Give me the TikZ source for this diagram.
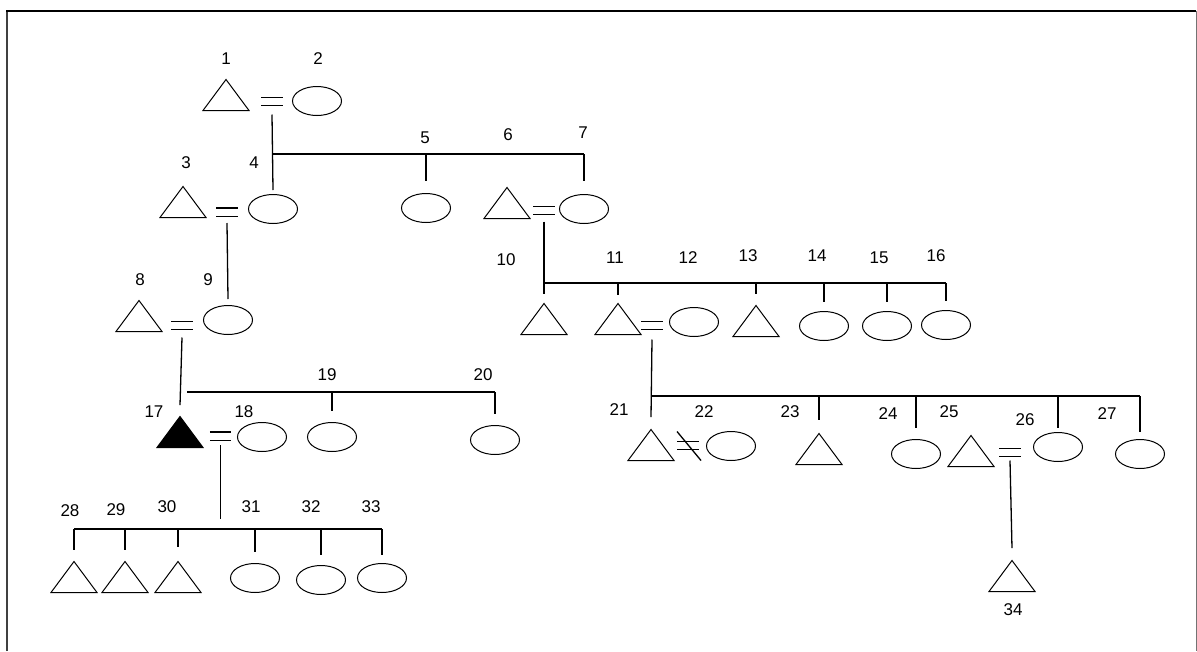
\documentclass[tikz,border=0pt]{standalone}
\usepackage{fontspec}
\setmainfont{Liberation Sans}
\usetikzlibrary{shapes.geometric}

\begin{document}
\begin{tikzpicture}[
  x=1pt, y=-1pt,
  line width=1.3pt,
  every node/.style={font=\fontsize{17}{17}\selectfont},
  male/.style={draw,line width=1pt,isosceles triangle,isosceles triangle stretches,shape border rotate=90,minimum width=46pt,minimum height=31pt,inner sep=0pt,anchor=lower side},
  female/.style={draw,line width=1pt,ellipse,minimum width=49pt,minimum height=29pt,inner sep=0pt},
  lbl/.style={inner sep=0pt},
  eq/.style={inner sep=0pt,minimum width=20pt,minimum height=7pt,
    append after command={(\tikzlastnode.north west) edge (\tikzlastnode.north east)
      (\tikzlastnode.south west) edge (\tikzlastnode.south east)}},
  neq/.style={eq,append after command={([xshift=-11pt,yshift=14pt]\tikzlastnode.center) edge ([xshift=13pt,yshift=-15pt]\tikzlastnode.center)}}
]
\useasboundingbox (0,0) rectangle (1197,651);
% frame
\draw[line width=2pt,black!75] (7,651) -- (7,11);
\draw[line width=1.5pt] (6,11) -- (1196,11);
\draw[line width=1pt,black!55] (1196,11) -- (1196,651);

% generation 1
\node[male] (p1) at (226,111) {};
\node[female] (p2) at (317,101) {};
\node[eq] (m12) at (272,101.5) {};

% generation 2
\node[male] (p3) at (183,218) {};
\node[female] (p4) at (273,209) {};
\node[eq] (m34) at (227,212) {};
\node[female] (p5) at (426,208) {};
\node[male] (p6) at (507,219) {};
\node[female] (p7) at (584,209) {};
\node[eq] (m67) at (544,210.5) {};

% generation 3
\node[male] (p8) at (139,332) {};
\node[female] (p9) at (228,320) {};
\node[eq] (m89) at (182,325.5) {};
\node[male] (p10) at (544,335) {};
\node[male] (p11) at (618,335) {};
\node[female] (p12) at (694,322) {};
\node[eq] (m1112) at (652,325.5) {};
\node[male] (p13) at (756,337) {};
\node[female] (p14) at (824,326) {};
\node[female] (p15) at (887,326) {};
\node[female] (p16) at (946,325) {};

% generation 4
\node[male,fill=black] (p17) at (180,448) {};
\node[female] (p18) at (262,437) {};
\node[eq] (m1718) at (220.5,436) {};
\node[female] (p19) at (332,437) {};
\node[female] (p20) at (495,440) {};
\node[male] (p21) at (651,461) {};
\node[female] (p22) at (731,446) {};
\node[neq] (m2122) at (688,445.5) {};
\node[male] (p23) at (819,465) {};
\node[female] (p24) at (916,454) {};
\node[male] (p25) at (971,467) {};
\node[female] (p26) at (1058,447) {};
\node[eq] (m2526) at (1010,452.5) {};
\node[female] (p27) at (1140,454) {};

% generation 5
\node[male] (p28) at (74,593) {};
\node[male] (p29) at (125,593) {};
\node[male] (p30) at (178,593) {};
\node[female] (p31) at (255,578) {};
\node[female] (p32) at (321,580) {};
\node[female] (p33) at (382,578) {};
\node[male] (p34) at (1012,592) {};

% labels
\node[lbl] (l1) at (226,59) {1};
\node[lbl] (l2) at (318,59) {2};
\node[lbl] (l3) at (186,163) {3};
\node[lbl] (l4) at (254,163) {4};
\node[lbl] (l5) at (425,138) {5};
\node[lbl] (l6) at (508,135) {6};
\node[lbl] (l7) at (583,133) {7};
\node[lbl] (l8) at (140,280) {8};
\node[lbl] (l9) at (208,280) {9};
\node[lbl] (l10) at (506,260) {10};
\node[lbl] (l11) at (615,258) {11};
\node[lbl] (l12) at (688,258) {12};
\node[lbl] (l13) at (748,256) {13};
\node[lbl] (l14) at (817,256) {14};
\node[lbl] (l15) at (879,258) {15};
\node[lbl] (l16) at (936,256) {16};
\node[lbl] (l17) at (154,412) {17};
\node[lbl] (l18) at (244,412) {18};
\node[lbl] (l19) at (327,375) {19};
\node[lbl] (l20) at (483,375) {20};
\node[lbl] (l21) at (619,410) {21};
\node[lbl] (l22) at (704,412) {22};
\node[lbl] (l23) at (790,412) {23};
\node[lbl] (l24) at (888,414) {24};
\node[lbl] (l25) at (949,412) {25};
\node[lbl] (l26) at (1025,420) {26};
\node[lbl] (l27) at (1107,414) {27};
\node[lbl] (l28) at (70,511) {28};
\node[lbl] (l29) at (116,510) {29};
\node[lbl] (l30) at (167,507) {30};
\node[lbl] (l31) at (251,507) {31};
\node[lbl] (l32) at (311,507) {32};
\node[lbl] (l33) at (371,507) {33};
\node[lbl] (l34) at (1013,610) {34};

% sibling bars
\coordinate (barA) at (273,154);
\coordinate (barC) at (544,283);
\coordinate (barD) at (187,392);
\coordinate (barE) at (652,396);
\coordinate (barF) at (74,529);
\coordinate (stemF) at (220.5,519);

% children of 1 = 2
\draw ([yshift=-13pt]m12.center) -- ([yshift=4pt]p4.north);
\draw (barA) -- (barA -| p7);
\draw (p5 |- barA) -- ([yshift=12pt]p5.north);
\draw (p7 |- barA) -- ([yshift=13pt]p7.north);

% children of 3 = 4
\draw ([yshift=-11pt]m34.center) -- ([yshift=6pt]p9.north);

% children of 6 = 7
\draw ([yshift=-11pt]m67.center) -- ([yshift=8pt]p10.apex);
\draw (barC) -- (barC -| p16);
\draw (p11 |- barC) -- ([yshift=7pt]p11.apex);
\draw (p13 |- barC) -- ([yshift=10pt]p13.apex);
\draw (p14 |- barC) -- ([yshift=9pt]p14.north);
\draw (p15 |- barC) -- ([yshift=9pt]p15.north);
\draw (p16 |- barC) -- ([yshift=9pt]p16.north);

% children of 8 = 9
\draw ([yshift=-12pt]m89.center) -- ([yshift=10pt]p17.apex);
\draw (barD) -- (barD -| p20);
\draw (p19 |- barD) -- ([yshift=11pt]p19.north);
\draw (p20 |- barD) -- ([yshift=11pt]p20.north);

% children of 11 = 12
\draw ([yshift=-14pt]m1112.center) -- ([yshift=11pt]p21.apex);
\draw (barE) -- (barE -| p27);
\draw (p23 |- barE) -- ([yshift=12pt]p23.apex);
\draw (p24 |- barE) -- ([yshift=11pt]p24.north);
\draw (p26 |- barE) -- ([yshift=4pt]p26.north);
\draw (p27 |- barE) -- ([yshift=7pt]p27.north);

% children of 17 = 18
\draw ([yshift=-9pt]m1718.center) -- (stemF);
\draw (barF) -- (barF -| p33);
\draw (p28 |- barF) -- ([yshift=10pt]p28.apex);
\draw (p29 |- barF) -- ([yshift=10pt]p29.apex);
\draw (p30 |- barF) -- ([yshift=13pt]p30.apex);
\draw (p31 |- barF) -- ([yshift=11pt]p31.north);
\draw (p32 |- barF) -- ([yshift=10pt]p32.north);
\draw (p33 |- barF) -- ([yshift=8pt]p33.north);

% child of 25 = 26
\draw ([yshift=-8pt]m2526.center) -- ([yshift=11pt]p34.apex);
\end{tikzpicture}
\end{document}
